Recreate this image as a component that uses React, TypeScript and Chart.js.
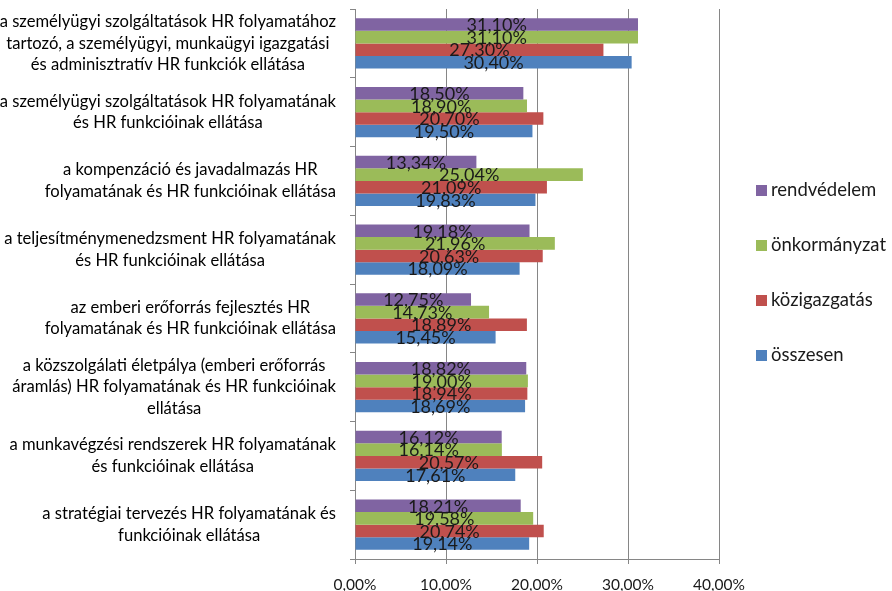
import React, { useEffect, useRef } from 'react';
import { Chart, registerables } from 'chart.js';

Chart.register(...registerables);

const categories: string[][] = [
  ['a személyügyi szolgáltatások HR folyamatához', 'tartozó, a személyügyi, munkaügyi igazgatási', 'és adminisztratív HR funkciók ellátása'],
  ['a személyügyi szolgáltatások HR folyamatának', 'és HR funkcióinak ellátása'],
  ['a kompenzáció és javadalmazás HR', 'folyamatának és HR funkcióinak ellátása'],
  ['a teljesítménymenedzsment HR folyamatának', 'és HR funkcióinak ellátása'],
  ['az emberi erőforrás fejlesztés HR', 'folyamatának és HR funkcióinak ellátása'],
  ['a közszolgálati életpálya (emberi erőforrás', 'áramlás) HR folyamatának és HR funkcióinak', 'ellátása'],
  ['a munkavégzési rendszerek HR folyamatának', 'és funkcióinak ellátása'],
  ['a stratégiai tervezés HR folyamatának és', 'funkcióinak ellátása'],
];

const seriesNames = ['rendvédelem', 'önkormányzat', 'közigazgatás', 'összesen'];
const rendvedelem = [31.1, 18.5, 13.34, 19.18, 12.75, 18.82, 16.12, 18.21];
const onkormanyzat = [31.1, 18.9, 25.04, 21.96, 14.73, 19.0, 16.14, 19.58];
const kozigazgatas = [27.3, 20.7, 21.09, 20.63, 18.89, 18.94, 20.57, 20.74];
const osszesen = [30.4, 19.5, 19.83, 18.09, 15.45, 18.69, 17.61, 19.14];
const seriesColors = ['#8064A2', '#9BBB59', '#C0504D', '#4F81BD'];
const xMin = 0;
const xMax = 40;
const xStep = 10;

const FONT = 'Lato, "Open Sans", sans-serif';
const fmt = (v: number) => v.toFixed(2).replace('.', ',') + '%';

const dataLabelPlugin = {
  id: 'dataLabels',
  afterDatasetsDraw(chart: any) {
    const ctx = chart.ctx;
    ctx.save();
    ctx.font = `18px ${FONT}`;
    ctx.fillStyle = '#1a1a1a';
    ctx.textAlign = 'center';
    ctx.textBaseline = 'middle';
    chart.data.datasets.forEach((ds: any, di: number) => {
      const meta = chart.getDatasetMeta(di);
      meta.data.forEach((el: any, i: number) => {
        const x = (el.x + el.base) / 2;
        ctx.fillText(fmt(ds.data[i]), x, el.y + 1);
      });
    });
    ctx.restore();
  },
};

const categoryLabelPlugin = {
  id: 'categoryLabels',
  afterDraw(chart: any) {
    const ctx = chart.ctx;
    const yScale = chart.scales.y;
    const area = chart.chartArea;
    ctx.save();
    ctx.font = `16.6px ${FONT}`;
    ctx.fillStyle = '#000';
    ctx.textAlign = 'center';
    ctx.textBaseline = 'middle';
    const lh = 21.5;
    categories.forEach((lines, i) => {
      const y = yScale.getPixelForValue(i);
      const maxW = Math.max(...lines.map((l) => ctx.measureText(l).width));
      const cx = area.left - 19 - maxW / 2;
      const y0 = y - ((lines.length - 1) / 2) * lh;
      lines.forEach((l, k) => ctx.fillText(l, cx, y0 + k * lh));
    });
    ctx.restore();
  },
};

const legendPlugin = {
  id: 'customLegend',
  afterDraw(chart: any) {
    const ctx = chart.ctx;
    const area = chart.chartArea;
    ctx.save();
    ctx.font = `18.5px ${FONT}`;
    ctx.textAlign = 'left';
    ctx.textBaseline = 'middle';
    const x0 = area.right + 37;
    const cy = (area.top + area.bottom) / 2 - 11;
    const gap = 55;
    seriesNames.forEach((name, i) => {
      const y = cy + (i - (seriesNames.length - 1) / 2) * gap;
      ctx.fillStyle = seriesColors[i];
      ctx.fillRect(x0, y - 5.5, 11, 11);
      ctx.fillStyle = '#1a1a1a';
      ctx.fillText(name, x0 + 15, y);
    });
    ctx.restore();
  },
};

export default function App() {
  const ref = useRef<HTMLCanvasElement>(null);
  useEffect(() => {
    document.body.style.margin = '0';
    const canvas = ref.current!;
    const seriesData = [rendvedelem, onkormanyzat, kozigazgatas, osszesen];
    const chart = new Chart(canvas, {
      type: 'bar',
      data: {
        labels: categories.map((c) => c.join(' ')),
        datasets: seriesNames.map((name, i) => ({
          label: name,
          data: seriesData[i],
          backgroundColor: seriesColors[i],
          borderWidth: 0,
          barPercentage: 1,
          categoryPercentage: 0.73,
        })),
      },
      options: {
        indexAxis: 'y',
        responsive: false,
        animation: false,
        layout: { padding: { left: 0, right: 173, top: 9, bottom: 0 } },
        plugins: {
          legend: { display: false },
          tooltip: { enabled: false },
        },
        scales: {
          x: {
            type: 'linear',
            min: xMin,
            max: xMax,
            afterFit: (s: any) => {
              s.height = 32;
            },
            ticks: {
              stepSize: xStep,
              callback: (v: any) => fmt(Number(v)),
              font: { family: FONT, size: 15.5 },
              color: '#1a1a1a',
              padding: 12,
              maxRotation: 0,
            },
            grid: { color: '#868686', tickLength: 5, lineWidth: 1 },
            border: { color: '#868686' },
          },
          y: {
            type: 'category',
            afterFit: (s: any) => {
              s.width = 355;
            },
            ticks: { display: false },
            grid: {
              offset: true,
              drawOnChartArea: false,
              drawTicks: true,
              tickLength: 5,
              color: '#868686',
            },
            border: { color: '#868686' },
          },
        },
      },
      plugins: [dataLabelPlugin, categoryLabelPlugin, legendPlugin],
    });
    return () => chart.destroy();
  }, []);
  return <canvas ref={ref} width={892} height={591} style={{ display: 'block' }} />;
}
